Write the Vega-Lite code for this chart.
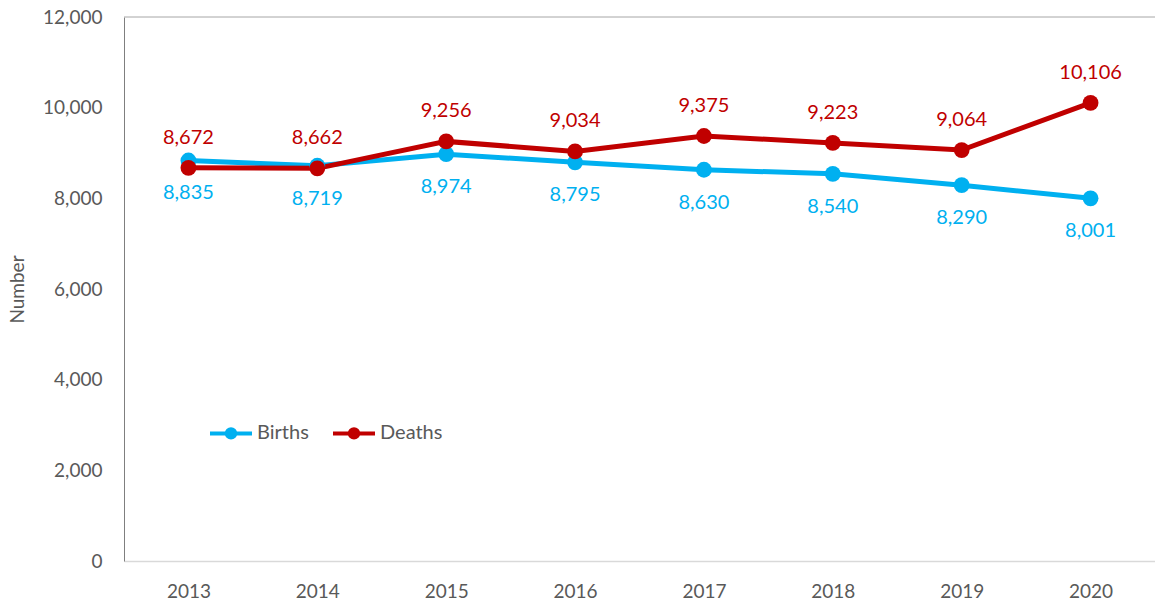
{
  "$schema": "https://vega.github.io/schema/vega-lite/v6.json",
  "autosize": {"type": "none"},
  "padding": {"left": 124, "top": 17, "right": 0, "bottom": 43},
  "width": 1031,
  "height": 544,
  "background": "white",
  "config": {
    "view": {"stroke": null},
    "font": "Lato",
    "axis": {"labelFont": "Lato", "titleFont": "Lato", "labelColor": "#595959", "titleColor": "#595959", "labelFontSize": 19, "titleFontSize": 19, "titleFontWeight": "normal", "ticks": false, "grid": false}
  },
  "data": {"values": [
    {"year": "2013", "series": "Births", "value": 8835},
    {"year": "2014", "series": "Births", "value": 8719},
    {"year": "2015", "series": "Births", "value": 8974},
    {"year": "2016", "series": "Births", "value": 8795},
    {"year": "2017", "series": "Births", "value": 8630},
    {"year": "2018", "series": "Births", "value": 8540},
    {"year": "2019", "series": "Births", "value": 8290},
    {"year": "2020", "series": "Births", "value": 8001},
    {"year": "2013", "series": "Deaths", "value": 8672},
    {"year": "2014", "series": "Deaths", "value": 8662},
    {"year": "2015", "series": "Deaths", "value": 9256},
    {"year": "2016", "series": "Deaths", "value": 9034},
    {"year": "2017", "series": "Deaths", "value": 9375},
    {"year": "2018", "series": "Deaths", "value": 9223},
    {"year": "2019", "series": "Deaths", "value": 9064},
    {"year": "2020", "series": "Deaths", "value": 10106}
  ]},
  "encoding": {
    "x": {"field": "year", "type": "ordinal", "scale": {"type": "point", "padding": 0.5},
      "axis": {"title": null, "labelAngle": 0, "labelPadding": 21, "labelFontSize": 19, "domainColor": "#d9d9d9", "domainWidth": 1.5}},
    "y": {"field": "value", "type": "quantitative", "scale": {"domain": [0, 12000], "nice": false},
      "axis": {"title": "Number", "values": [0, 2000, 4000, 6000, 8000, 10000, 12000], "format": ",d", "labelFontSize": 19, "titleFontSize": 19, "labelPadding": 22, "titlePadding": 15, "domainColor": "#7f7f7f", "domainWidth": 1}}
  },
  "layer": [
    {"mark": {"type": "line", "strokeWidth": 5},
      "encoding": {"color": {"field": "series", "type": "nominal",
        "scale": {"domain": ["Births", "Deaths"], "range": ["#00b0f0", "#c00000"]},
        "legend": {"title": null, "orient": "none", "direction": "horizontal", "legendX": 84, "legendY": 393,
          "symbolType": "M-1,0L-0.2,0M0.2,0L1,0M-0.2,0A0.2,0.2 0 1,0 0.2,0A0.2,0.2 0 1,0 -0.2,0Z",
          "symbolSize": 1764, "symbolStrokeWidth": 4, "labelFontSize": 20, "labelColor": "#595959", "labelFont": "Lato", "columnPadding": 16, "labelOffset": 3}}}},
    {"mark": {"type": "point", "filled": true, "size": 250, "opacity": 1},
      "encoding": {"color": {"field": "series", "type": "nominal", "legend": null}}},
    {"transform": [{"filter": "datum.series === 'Deaths'"}],
      "mark": {"type": "text", "dy": -30, "fontSize": 20, "color": "#c00000", "font": "Lato"},
      "encoding": {"text": {"field": "value", "type": "quantitative", "format": ","}}},
    {"transform": [{"filter": "datum.series === 'Births'"}],
      "mark": {"type": "text", "dy": 33, "fontSize": 20, "color": "#00b0f0", "font": "Lato"},
      "encoding": {"text": {"field": "value", "type": "quantitative", "format": ","}}},
    {"transform": [{"filter": "datum.year === '2013' && datum.series === 'Births'"}],
      "mark": {"type": "rule", "color": "#a6a6a6", "strokeWidth": 1},
      "encoding": {"y": {"value": 0}, "x": {"value": 0}, "x2": {"value": 1031}}}
  ]
}
